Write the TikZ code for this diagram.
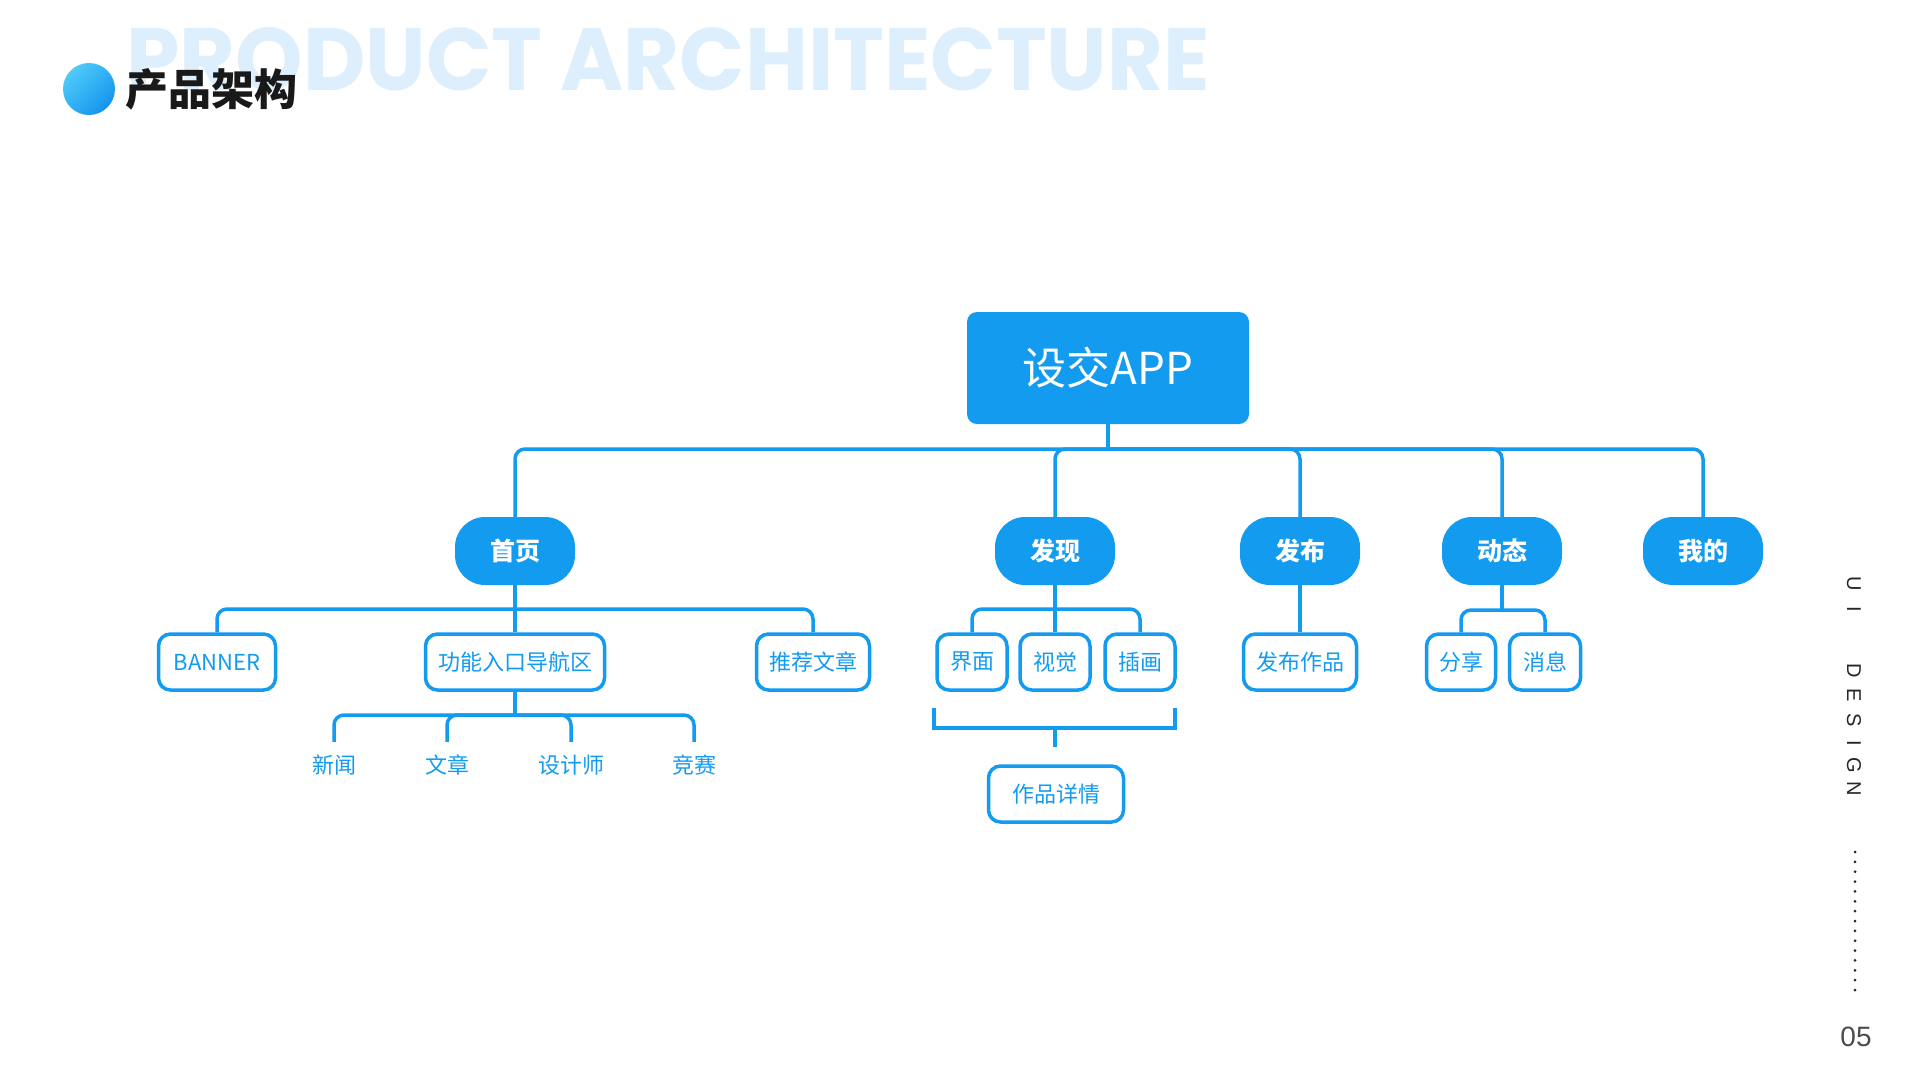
\documentclass[tikz,border=0pt]{standalone}
\usepackage{graphicx}
\usepackage{fontspec}
\setmainfont{Noto Sans CJK SC}
\newfontfamily\headfont{Poppins}
\newfontfamily\sidefont{Liberation Sans}

\definecolor{appblue}{HTML}{139BF0}
\definecolor{ghostblue}{HTML}{DDEFFC}
\definecolor{balllight}{HTML}{4FCBF9}
\definecolor{balldark}{HTML}{1594EE}

\tikzset{
	root/.style={fill=appblue, rounded corners=10pt, minimum width=282pt, minimum height=112pt, inner sep=0pt, text=white, font=\fontsize{44}{48}\selectfont},
	tab/.style={fill=appblue, rounded corners=30pt, minimum width=120pt, minimum height=68pt, inner sep=0pt, text=white, font=\bfseries\fontsize{25}{28}\selectfont},
	page/.style={draw=appblue, line width=3.5pt, rounded corners=12pt, fill=white, minimum height=56pt, inner sep=0pt, text=appblue, font=\fontsize{22}{26}\selectfont},
	leaf/.style={minimum height=46pt, inner sep=0pt, text=appblue, font=\fontsize{22}{26}\selectfont},
	link/.style={draw=appblue, line width=3.5pt, rounded corners=10pt},
	bracket/.style={draw=appblue, line width=3.5pt},
}

\begin{document}
\begin{tikzpicture}[x=1pt, y=-1pt]
\useasboundingbox (0,0) rectangle (1920,1080);
\fill[white] (0,0) rectangle (1920,1080);

\node[anchor=base west, inner sep=0pt, text=ghostblue] (ghost) at (126,90) {\resizebox{1083pt}{63pt}{\headfont\bfseries PRODUCT ARCHITECTURE}};
\shade[left color=balllight, right color=balldark, shading angle=45] (89,89) circle (26pt);
\node[anchor=west, inner sep=0pt, text=black!90, font=\bfseries\fontsize{43}{47}\selectfont] (title) at (125,89) {产品架构};

\node[root] (app) at (1108,368) {设交APP};
\node[tab] (home) at (515,551) {首页};
\node[tab] (find) at (1055,551) {发现};
\node[tab] (post) at (1300,551) {发布};
\node[tab] (feed) at (1502,551) {动态};
\node[tab] (mine) at (1703,551) {我的};

\node[page, minimum width=117pt] (banner) at (217,662) {BANNER};
\node[page, minimum width=179pt] (nav) at (515,662) {功能入口导航区};
\node[page, minimum width=113pt] (recommend) at (813,662) {推荐文章};
\node[page, minimum width=70pt] (ui) at (972,662) {界面};
\node[page, minimum width=70pt] (visual) at (1055,662) {视觉};
\node[page, minimum width=70pt] (illus) at (1140,662) {插画};
\node[page, minimum width=113pt] (works) at (1300,662) {发布作品};
\node[page, minimum width=69pt] (share) at (1461,662) {分享};
\node[page, minimum width=71pt] (message) at (1545,662) {消息};
\node[page, minimum width=135pt] (detail) at (1056,794) {作品详情};

\node[leaf] (news) at (334,765) {新闻};
\node[leaf] (article) at (447,765) {文章};
\node[leaf] (designer) at (571,765) {设计师};
\node[leaf] (contest) at (694,765) {竞赛};

\coordinate (hub) at (app.south |- 0,449);
\coordinate (homehub) at (home.south |- 0,609);
\coordinate (findhub) at (find.south |- 0,609);
\coordinate (feedhub) at (feed.south |- 0,610);
\coordinate (navhub) at (nav.south |- 0,715);
\coordinate (bracketl) at (934,708);
\coordinate (bracketr) at (1175,708);
\coordinate (bracketm) at (1055,728);
\coordinate (detailtip) at (1055,747);

\draw[link] (app.south) -- (hub);
\foreach \t in {home,find,post,feed,mine}
	\draw[link] (hub) -| (\t.north);
\draw[link] (home.south) -- (homehub);
\foreach \p in {banner,nav,recommend}
	\draw[link] (homehub) -| (\p.north);
\draw[link] (find.south) -- (findhub);
\foreach \p in {ui,visual,illus}
	\draw[link] (findhub) -| (\p.north);
\draw[link] (post.south) -- (works.north);
\draw[link] (feed.south) -- (feedhub);
\foreach \p in {share,message}
	\draw[link] (feedhub) -| (\p.north);
\draw[link] (nav.south) -- (navhub);
\foreach \l in {news,article,designer,contest}
	\draw[link] (navhub) -| (\l.north);

\draw[bracket] (bracketl) -- ++(0,20) -| (bracketr);
\draw[bracket] (bracketm) -- (detailtip);

\foreach \ch/\y in {U/584,I/609,D/671,E/695,S/720,I/743,G/765,N/789}
	\node[rotate=-90, inner sep=0pt, text=black!85, font=\sidefont\fontsize{20}{20}\selectfont] (side\y) at (1854,\y) {\ch};
\foreach \i in {0,...,14}
	\fill[black!85] (1855,{852+\i*9.86}) circle (1.5pt);
\node[inner sep=0pt, text=black!70, font=\sidefont\fontsize{28}{28}\selectfont] (pagenum) at (1856,1037) {05};
\end{tikzpicture}
\end{document}
